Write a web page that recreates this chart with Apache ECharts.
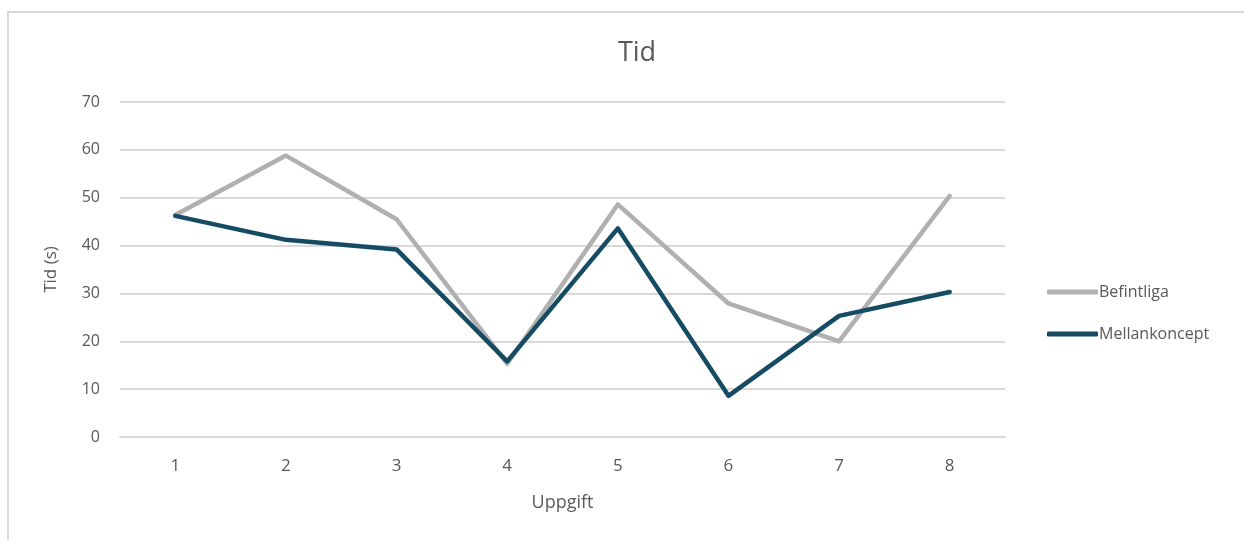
<!DOCTYPE html>
<html>
<head>
<meta charset="utf-8">
<style>
  html, body { margin: 0; padding: 0; background: #ffffff; }
  #chart { width: 1244px; height: 540px; }
</style>
<script src="https://cdn.jsdelivr.net/npm/echarts@6/dist/echarts.min.js"></script>
</head>
<body>
<div id="chart"></div>
<script>
// Task numbers along the x axis
const categories = ['1', '2', '3', '4', '5', '6', '7', '8'];
// Time in seconds per task
const befintliga = [46.4, 58.8, 45.5, 15.3, 48.6, 27.9, 20.0, 50.4];
const mellankoncept = [46.2, 41.2, 39.2, 15.8, 43.6, 8.6, 25.3, 30.3];
const seriesNames = ['Befintliga', 'Mellankoncept'];

const textColor = '#595959';
const font = "'Open Sans', sans-serif";

const chart = echarts.init(document.getElementById('chart'), null, { renderer: 'canvas' });

chart.setOption({
  backgroundColor: '#ffffff',
  animation: false,
  graphic: [{
    type: 'rect',
    shape: { x: 8, y: 12, width: 1260, height: 560 },
    style: { fill: 'none', stroke: '#d9d9d9', lineWidth: 2 },
    silent: true
  }],
  title: {
    text: 'Tid',
    left: 632,
    textAlign: 'center',
    top: 35,
    textStyle: { color: textColor, fontSize: 27, fontWeight: 'normal', fontFamily: font }
  },
  legend: {
    orient: 'vertical',
    left: 1042,
    top: 279,
    icon: 'roundRect',
    itemWidth: 51,
    itemHeight: 5,
    itemGap: 26,
    textStyle: { color: textColor, fontSize: 16, fontFamily: font, padding: [0, 0, 0, -4] },
    data: seriesNames
  },
  grid: { left: 120, right: 239, top: 102, bottom: 103, containLabel: false },
  xAxis: {
    type: 'category',
    data: categories,
    boundaryGap: true,
    name: 'Uppgift',
    nameLocation: 'middle',
    nameGap: 57,
    nameTextStyle: { color: textColor, fontSize: 18, fontFamily: font },
    axisLine: { show: true, lineStyle: { color: '#d9d9d9', width: 2 } },
    axisTick: { show: false },
    axisLabel: { color: textColor, fontSize: 17, margin: 21, fontFamily: font }
  },
  yAxis: {
    type: 'value',
    min: 0,
    max: 70,
    interval: 10,
    name: 'Tid (s)',
    nameLocation: 'middle',
    nameGap: 60,
    nameTextStyle: { color: textColor, fontSize: 17, fontFamily: font },
    axisLine: { show: false },
    axisTick: { show: false },
    axisLabel: { color: textColor, fontSize: 16, margin: 20, fontFamily: font },
    splitLine: { lineStyle: { color: '#d9d9d9', width: 2 } }
  },
  series: [
    {
      name: seriesNames[0],
      type: 'line',
      data: befintliga,
      symbol: 'none',
      lineStyle: { color: '#b0b0b0', width: 4.5, cap: 'round', join: 'round' },
      itemStyle: { color: '#b0b0b0' }
    },
    {
      name: seriesNames[1],
      type: 'line',
      data: mellankoncept,
      symbol: 'none',
      lineStyle: { color: '#154b63', width: 4.5, cap: 'round', join: 'round' },
      itemStyle: { color: '#154b63' }
    }
  ]
});
</script>
</body>
</html>
